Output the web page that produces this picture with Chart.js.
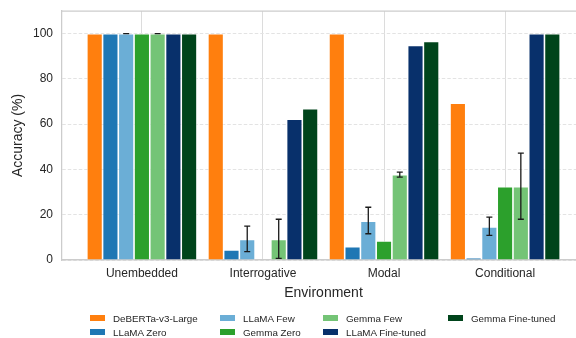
<!DOCTYPE html>
<html><head><meta charset="utf-8">
<script src="https://cdn.jsdelivr.net/npm/chart.js@4"></script>
<style>
html,body{margin:0;padding:0;background:#fff;overflow:hidden;}
#wrap{position:relative;width:600px;height:338px;}
#c{position:absolute;left:0;top:0;}
#legend{position:absolute;left:0;top:0;width:600px;height:338px;pointer-events:none;font-family:"Liberation Sans",Arial,sans-serif;font-size:9.8px;color:#262626;}
.li{position:absolute;display:flex;align-items:center;white-space:nowrap;height:12px;transform:translateY(-50%);}
.sw{width:15px;height:6px;margin-right:8px;flex:none;}
</style></head>
<body><div id="wrap"><canvas id="c" width="600" height="338"></canvas><div id="legend"></div></div>
<script>
const categories = ['Unembedded', 'Interrogative', 'Modal', 'Conditional'];
const seriesNames = ['DeBERTa-v3-Large', 'LLaMA Zero', 'LLaMA Few', 'Gemma Zero', 'Gemma Few', 'LLaMA Fine-tuned', 'Gemma Fine-tuned'];
const seriesColors = ['#ff7f0e', '#1f77b4', '#6baed6', '#2ca02c', '#74c476', '#08306b', '#00441b'];

const debertaLarge   = [100, 100, 100, 69.3];
const llamaZero      = [100, 4.4, 5.9, 1.0];
const llamaFew       = [100, 9.1, 17.1, 14.6];
const gemmaZero      = [100, 0, 8.4, 32.4];
const gemmaFew       = [100, 9.1, 37.7, 32.4];
const llamaFineTuned = [100, 62.2, 94.8, 100];
const gemmaFineTuned = [100, 66.8, 96.6, 100];

const llamaFewErrLow  = [100, 3.7, 11.6, 10.9];
const llamaFewErrHigh = [100, 15.0, 23.3, 18.9];
const gemmaFewErrLow  = [100, 0.7, 36.6, 18.0];
const gemmaFewErrHigh = [100, 18.0, 38.8, 47.2];

const yTicks = [0, 20, 40, 60, 80, 100];

const seriesValues = [debertaLarge, llamaZero, llamaFew, gemmaZero, gemmaFew, llamaFineTuned, gemmaFineTuned];
const errorBars = { 2: [llamaFewErrLow, llamaFewErrHigh], 4: [gemmaFewErrLow, gemmaFewErrHigh] };

const FONT = '"Liberation Sans", Arial, sans-serif';
const TEXT = '#262626';
const SPINE = '#cccccc';

const datasets = seriesNames.map((name, k) => ({
  label: name,
  data: seriesValues[k].map((v, i) => ({ x: i, y: v })),
  backgroundColor: seriesColors[k],
  borderColor: 'rgba(255,255,255,0.75)',
  borderWidth: 0.8,
  borderSkipped: 'bottom',
  categoryPercentage: 0.91,
  barPercentage: 1.0
}));

const errorBarPlugin = {
  id: 'errorBars',
  afterDatasetsDraw(chart) {
    const ctx = chart.ctx;
    const yScale = chart.scales.y;
    ctx.save();
    ctx.strokeStyle = '#1a1a1a';
    ctx.lineWidth = 1.3;
    Object.keys(errorBars).forEach(key => {
      const idx = Number(key);
      const [lo, hi] = errorBars[idx];
      const meta = chart.getDatasetMeta(idx);
      meta.data.forEach((bar, i) => {
        const x = bar.x;
        const y1 = yScale.getPixelForValue(lo[i]);
        const y2 = yScale.getPixelForValue(hi[i]);
        const cap = 3;
        ctx.beginPath();
        ctx.moveTo(x, y1); ctx.lineTo(x, y2);
        ctx.moveTo(x - cap, y1); ctx.lineTo(x + cap, y1);
        ctx.moveTo(x - cap, y2); ctx.lineTo(x + cap, y2);
        ctx.stroke();
      });
    });
    ctx.restore();
  }
};

const frameTopPlugin = {
  id: 'frameTop',
  afterDraw(chart) {
    const { ctx, chartArea } = chart;
    ctx.save();
    ctx.strokeStyle = SPINE;
    ctx.lineWidth = 1.25;
    ctx.beginPath();
    ctx.moveTo(chartArea.left, chartArea.top);
    ctx.lineTo(chartArea.right, chartArea.top);
    ctx.stroke();
    ctx.restore();
  }
};

const chart = new Chart(document.getElementById('c'), {
  type: 'bar',
  data: { datasets },
  options: {
    responsive: false,
    animation: false,
    layout: { padding: { top: 11, right: 15, bottom: 36, left: 0 } },
    plugins: { legend: { display: false }, tooltip: { enabled: false } },
    scales: {
      x: {
        type: 'linear',
        min: -0.66,
        max: 3.66,
        offset: false,
        afterBuildTicks: axis => { axis.ticks = categories.map((c, i) => ({ value: i })); },
        afterFit: axis => { axis.height = 42; axis.paddingLeft = 0; axis.paddingRight = 0; },
        ticks: {
          callback: v => categories[v],
          font: { family: FONT, size: 12 },
          color: TEXT,
          padding: 6,
          maxRotation: 0,
          autoSkip: false
        },
        grid: { offset: false, color: '#dcdcdc', lineWidth: 1, drawTicks: false },
        border: { display: true, color: SPINE, width: 1.5 },
        title: {
          display: true,
          text: 'Environment',
          font: { family: FONT, size: 14 },
          color: TEXT,
          padding: { top: 0, bottom: 0 }
        }
      },
      y: {
        min: 0,
        max: 110,
        afterBuildTicks: axis => { axis.ticks = yTicks.map(v => ({ value: v })); },
        afterFit: axis => { axis.width = 62; axis.paddingTop = 0; axis.paddingBottom = 0; },
        ticks: {
          font: { family: FONT, size: 12 },
          color: TEXT,
          padding: 9
        },
        grid: { color: '#e3e3e3', lineWidth: 1, drawTicks: false },
        border: { display: true, color: SPINE, width: 1.25, dash: [3.5, 2] },
        title: {
          display: true,
          text: 'Accuracy (%)',
          font: { family: FONT, size: 14 },
          color: TEXT,
          padding: { top: 10, bottom: 0 }
        }
      }
    }
  },
  plugins: [errorBarPlugin, frameTopPlugin]
});

// legend (matplotlib-style column-major, 4 columns)
const legendCols = [90, 220, 323, 448];
const legendRows = [318, 332];
const legendEl = document.getElementById('legend');
chart.data.datasets.forEach((ds, k) => {
  const col = Math.floor(k / 2), row = k % 2;
  const item = document.createElement('div');
  item.className = 'li';
  item.style.left = legendCols[col] + 'px';
  item.style.top = legendRows[row] + 'px';
  const sw = document.createElement('span');
  sw.className = 'sw';
  sw.style.background = ds.backgroundColor;
  const tx = document.createElement('span');
  tx.textContent = ds.label;
  item.appendChild(sw);
  item.appendChild(tx);
  legendEl.appendChild(item);
});
</script>
</body></html>
